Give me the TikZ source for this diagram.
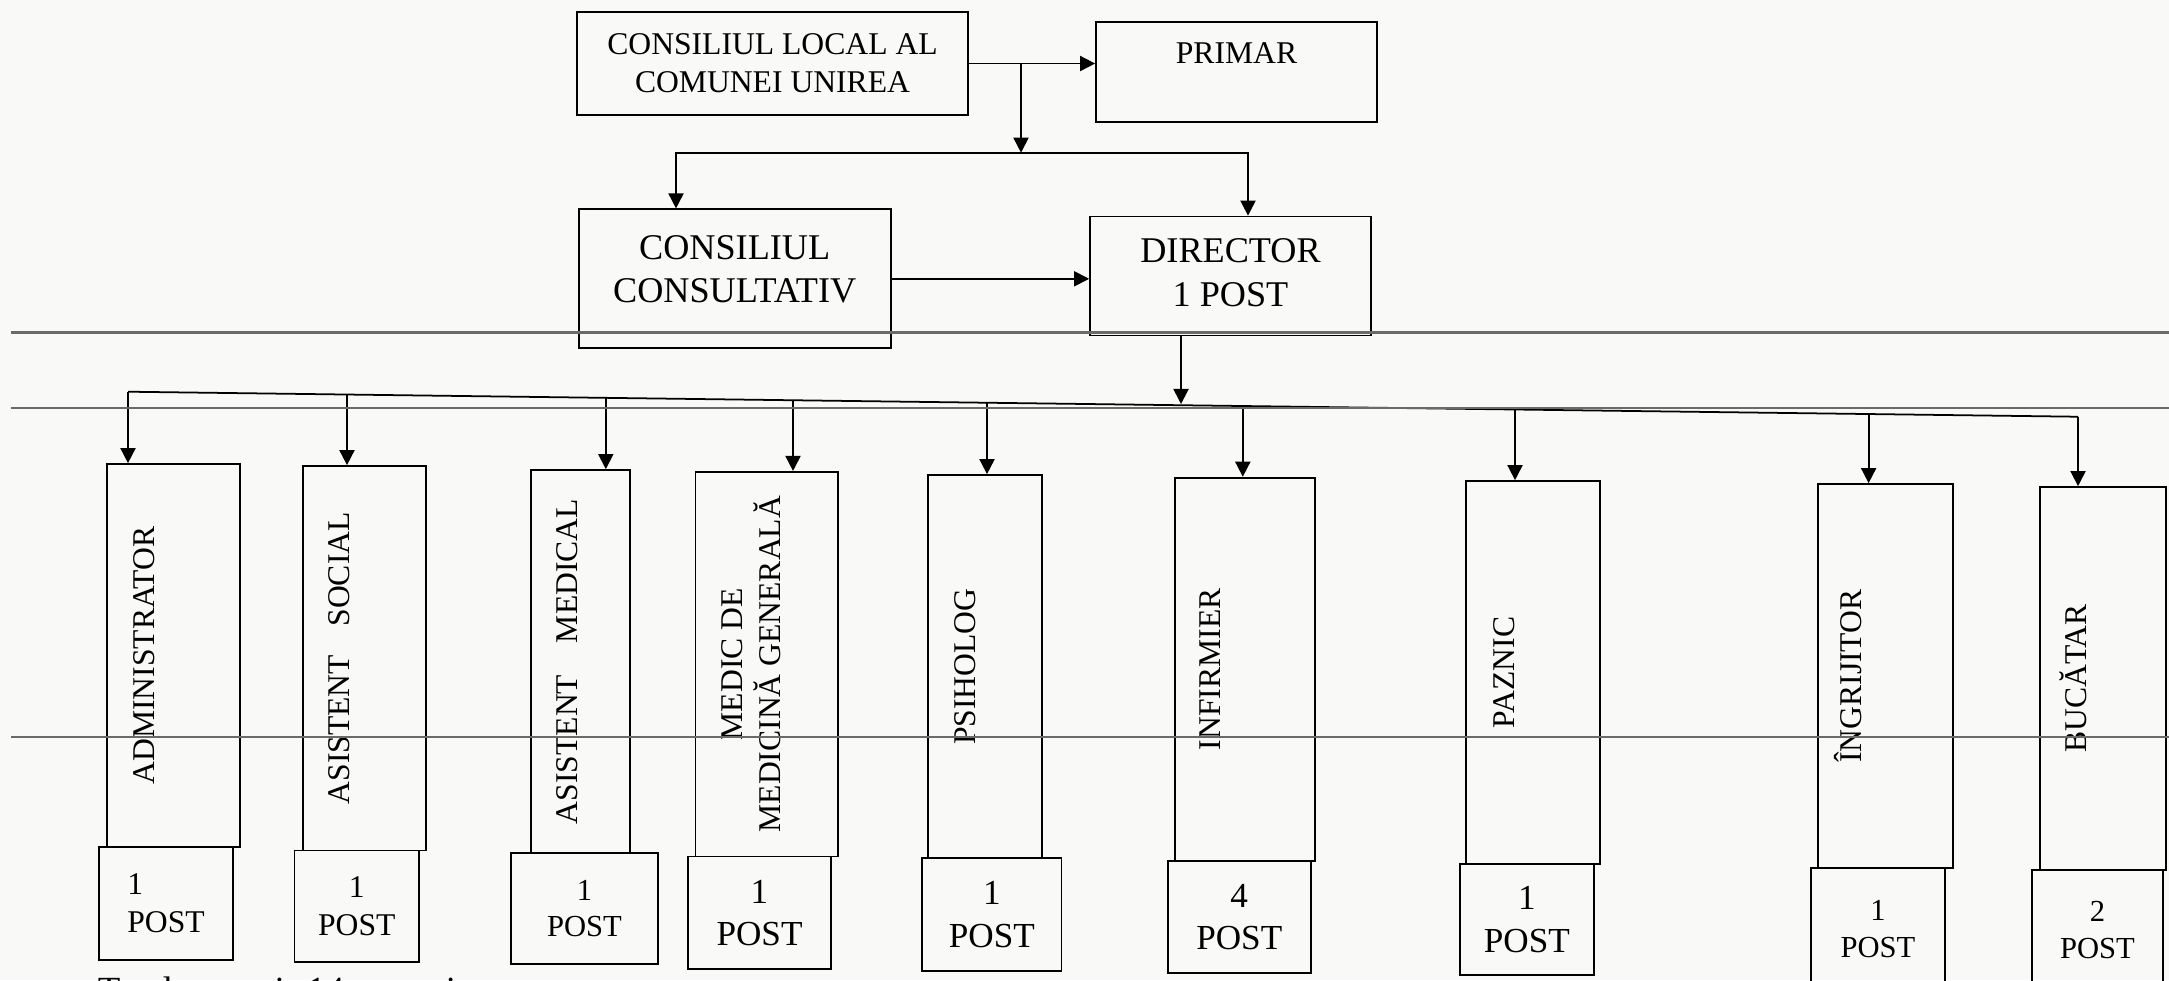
\documentclass[tikz,border=0pt]{standalone}
\usepackage{fontspec}
\setmainfont{Liberation Serif}
\usetikzlibrary{arrows.meta}
\definecolor{paper}{HTML}{F9F9F7}
\definecolor{scanline}{HTML}{6A6A6A}
\tikzset{>={Triangle[length=4.3pt,width=4.3pt]}}
\tikzset{box/.style={shape=rectangle, draw=black, line width=0.5pt, inner sep=0pt, align=center, font=\fontsize{9}{10.8}\selectfont}}
\tikzset{bigtext/.style={font=\fontsize{10.3}{12.4}\selectfont}}
\tikzset{postbig/.style={font=\fontsize{10}{12}\selectfont}}
\tikzset{postsmall/.style={font=\fontsize{8.7}{10.4}\selectfont}}
\tikzset{vlabel/.style={rotate=90, anchor=north, inner sep=0pt, text height=6pt, align=center, font=\fontsize{9}{10.8}\selectfont}}
\tikzset{scan/.style={draw=scanline, line width=0.6pt}}

\begin{document}
\begin{tikzpicture}[line width=0.5pt]
        \fill[paper] (0,0) rectangle (21.69,-9.80);
        \useasboundingbox (0,0) rectangle (21.69,-9.80);

                    % conducere
                    \node[box, minimum width=3.91cm, minimum height=1.03cm] (cl) at (7.725,-0.635) {CONSILIUL LOCAL AL\\COMUNEI UNIREA};
                    \node[box, minimum width=2.81cm, minimum height=1.00cm] (primar) at (12.365,-0.717) {PRIMAR\\\mbox{}};
                    \node[box, bigtext, text depth=5.5pt, minimum width=3.12cm, minimum height=1.39cm] (cc) at (7.347,-2.788) {CONSILIUL\\CONSULTATIV};
                    \node[box, bigtext, text depth=2pt, minimum width=2.81cm, minimum height=1.19cm] (dir) at (12.305,-2.76) {DIRECTOR\\1 POST};

                    \coordinate (split) at (10.21,-1.527);
                    \draw[->] (cl.east) -- (cl.east -| primar.west);
                    \draw[->] (split |- cl.east) -- (split);
                    \draw[->] (split) -| ([xshift=-5.87mm]cc.north);
                    \draw[->] (split) -| ([xshift=1.75mm]dir.north);
                    \draw[->] (cc.east) -- (cc.east -| dir.west);

                    % posturi
                    \node[box, minimum width=1.33cm, minimum height=3.83cm] (admin) at (1.735,-6.555) {};
                    \node[box, minimum width=1.23cm, minimum height=3.845cm] (asoc) at (3.645,-6.5825) {};
                    \node[box, minimum width=0.99cm, minimum height=3.83cm] (amed) at (5.805,-6.615) {};
                    \node[box, minimum width=1.425cm, minimum height=3.847cm] (medic) at (7.6675,-6.6415) {};
                    \node[box, minimum width=1.143cm, minimum height=3.83cm] (psih) at (9.8485,-6.665) {};
                    \node[box, minimum width=1.40cm, minimum height=3.834cm] (infirm) at (12.45,-6.693) {};
                    \node[box, minimum width=1.34cm, minimum height=3.83cm] (paznic) at (15.33,-6.725) {};
                    \node[box, minimum width=1.35cm, minimum height=3.84cm] (ingr) at (18.855,-6.76) {};
                    \node[box, minimum width=1.26cm, minimum height=3.83cm] (bucatar) at (21.03,-6.785) {};

                    \node[vlabel] (admin-t) at ([xshift=2.6mm]admin.west) {ADMINISTRATOR};
                    \node[vlabel] (asoc-t) at ([xshift=2.5mm]asoc.west) {ASISTENT\hspace{0.9em}SOCIAL};
                    \node[vlabel] (amed-t) at ([xshift=2.5mm]amed.west) {ASISTENT\hspace{1em}MEDICAL};
                    \node[vlabel] (medic-t) at ([xshift=6.4mm]medic.west) {MEDIC DE\\MEDICINĂ GENERALĂ};
                    \node[vlabel] (psih-t) at ([xshift=2.7mm]psih.west) {PSIHOLOG};
                    \node[vlabel] (infirm-t) at ([xshift=2.4mm]infirm.west) {INFIRMIER};
                    \node[vlabel] (paznic-t) at ([xshift=2.7mm]paznic.west) {PAZNIC};
                    \node[vlabel] (ingr-t) at ([xshift=2.2mm]ingr.west) {ÎNGRIJITOR};
                    \node[vlabel] (bucatar-t) at ([xshift=2.5mm]bucatar.west) {BUCĂTAR};

                    \node[box, align=left, minimum width=1.34cm, minimum height=1.13cm] (admin-p) at (1.66,-9.035) {1\\POST};
                    \node[box, minimum width=1.244cm, minimum height=1.115cm] (asoc-p) at (3.568,-9.0625) {1\\POST};
                    \node[box, postsmall, minimum width=1.47cm, minimum height=1.106cm] (amed-p) at (5.845,-9.083) {1\\POST};
                    \node[box, postbig, minimum width=1.43cm, minimum height=1.125cm] (medic-p) at (7.595,-9.1275) {1\\POST};
                    \node[box, postbig, minimum width=1.396cm, minimum height=1.13cm] (psih-p) at (9.918,-9.145) {1\\POST};
                    \node[box, postbig, minimum width=1.429cm, minimum height=1.12cm] (infirm-p) at (12.3925,-9.17) {4\\POST};
                    \node[box, postbig, minimum width=1.343cm, minimum height=1.11cm] (paznic-p) at (15.2685,-9.195) {1\\POST};
                    \node[box, postsmall, minimum width=1.34cm, minimum height=1.22cm] (ingr-p) at (18.78,-9.29) {1\\POST};
                    \node[box, postsmall, minimum width=1.31cm, minimum height=1.20cm] (bucatar-p) at (20.975,-9.30) {2\\POST};

                    % magistrala
                    \coordinate (b1) at (1.28,-3.917);
                    \coordinate (b2) at (3.47,-3.945);
                    \coordinate (b3) at (6.058,-3.978);
                    \coordinate (b4) at (7.93,-4.002);
                    \coordinate (b5) at (9.87,-4.027);
                    \coordinate (bd) at (11.81,-4.04);
                    \coordinate (b6) at (12.428,-4.06);
                    \coordinate (b7) at (15.15,-4.095);
                    \coordinate (b8) at (18.686,-4.14);
                    \coordinate (b9) at (20.78,-4.167);

                    \draw (b1) -- (b9);
                    \draw[->] (bd |- dir.south) -- (bd);
                    \draw[->] (b1) -- (b1 |- admin.north);
                    \draw[->] (b2) -- (b2 |- asoc.north);
                    \draw[->] (b3) -- (b3 |- amed.north);
                    \draw[->] (b4) -- (b4 |- medic.north);
                    \draw[->] (b5) -- (b5 |- psih.north);
                    \draw[->] (b6) -- (b6 |- infirm.north);
                    \draw[->] (b7) -- (b7 |- paznic.north);
                    \draw[->] (b8) -- (b8 |- ingr.north);
                    \draw[->] (b9) -- (b9 |- bucatar.north);

                    \node[anchor=base west, inner sep=0pt, font=\fontsize{10.5}{12.6}\selectfont] (total) at (0.97,-10.02) {Total posturi: 14 posturi};

                    % liniile scanerului
                    \draw[scan, line width=0.85pt] (0.11,-3.326) -- (21.69,-3.326);
                    \draw[scan] (0.11,-4.077) -- (21.69,-4.077);
                    \draw[scan, line width=0.5pt] (0.11,-7.367) -- (21.69,-7.367);

                \end{tikzpicture}
\end{document}
